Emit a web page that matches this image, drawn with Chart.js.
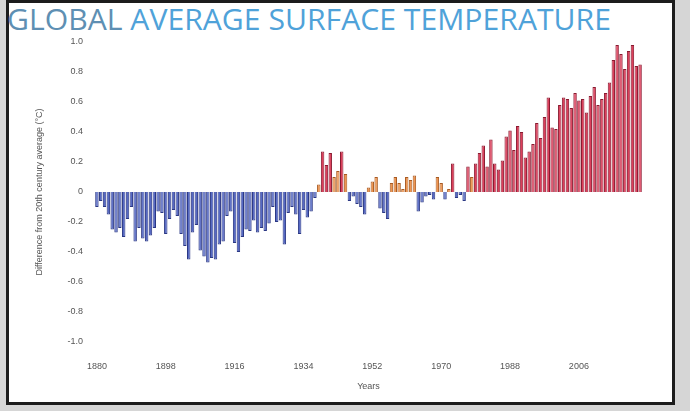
<!DOCTYPE html>
<html>
<head>
<meta charset="utf-8">
<script src="https://cdn.jsdelivr.net/npm/chart.js@4/dist/chart.umd.min.js"></script>
<style>
  html, body { margin: 0; padding: 0; }
  body { width: 690px; height: 411px; background: #d6d6d6; position: relative; overflow: hidden; }
  #frame { position: absolute; left: 6px; top: 0px; width: 663px; height: 399px; background: #fff; border: 3px solid #1c1c1c; }
  #title { position: absolute; left: 0; top: 0; }
  #chart { position: absolute; left: 0; top: 0; }
</style>
</head>
<body>
<div id="frame"></div>
<svg id="title" width="690" height="40">
  <text x="7" y="30" textLength="604" lengthAdjust="spacingAndGlyphs"
        font-family="Open Sans, DejaVu Sans, sans-serif" font-size="29"><tspan fill="#5e8fb3">GLOBAL </tspan><tspan fill="#4fa2d9">AVERAGE SURFACE TEMPERATURE</tspan></text>
</svg>
<canvas id="chart" width="690" height="411"></canvas>
<script>
// Annual global surface temperature anomaly, 1880-2022 (°C vs 20th century mean)
const years = [
  1880,1881,1882,1883,1884,1885,1886,1887,1888,1889,
  1890,1891,1892,1893,1894,1895,1896,1897,1898,1899,
  1900,1901,1902,1903,1904,1905,1906,1907,1908,1909,
  1910,1911,1912,1913,1914,1915,1916,1917,1918,1919,
  1920,1921,1922,1923,1924,1925,1926,1927,1928,1929,
  1930,1931,1932,1933,1934,1935,1936,1937,1938,1939,
  1940,1941,1942,1943,1944,1945,1946,1947,1948,1949,
  1950,1951,1952,1953,1954,1955,1956,1957,1958,1959,
  1960,1961,1962,1963,1964,1965,1966,1967,1968,1969,
  1970,1971,1972,1973,1974,1975,1976,1977,1978,1979,
  1980,1981,1982,1983,1984,1985,1986,1987,1988,1989,
  1990,1991,1992,1993,1994,1995,1996,1997,1998,1999,
  2000,2001,2002,2003,2004,2005,2006,2007,2008,2009,
  2010,2011,2012,2013,2014,2015,2016,2017,2018,2019,
  2020,2021,2022
];

const anomalies = [
  -0.10,-0.06,-0.10,-0.15,-0.25,-0.27,-0.24,-0.30,-0.18,-0.10,
  -0.33,-0.24,-0.31,-0.33,-0.29,-0.24,-0.13,-0.14,-0.28,-0.18,
  -0.12,-0.16,-0.28,-0.36,-0.45,-0.27,-0.22,-0.39,-0.43,-0.47,
  -0.44,-0.45,-0.35,-0.33,-0.16,-0.13,-0.34,-0.40,-0.30,-0.25,
  -0.26,-0.19,-0.27,-0.24,-0.26,-0.21,-0.10,-0.20,-0.19,-0.35,
  -0.14,-0.10,-0.15,-0.28,-0.12,-0.17,-0.13,-0.04, 0.05, 0.27,
   0.18, 0.26, 0.10, 0.14, 0.27, 0.12,-0.06,-0.03,-0.08,-0.10,
  -0.15, 0.03, 0.07, 0.10,-0.11,-0.14,-0.18, 0.06, 0.10, 0.06,
   0.02, 0.10, 0.08, 0.11,-0.13,-0.07,-0.03,-0.02,-0.05, 0.10,
   0.06,-0.05, 0.02, 0.19,-0.04,-0.02,-0.06, 0.17, 0.10, 0.19,
   0.26, 0.31, 0.17, 0.35, 0.19, 0.15, 0.21, 0.37, 0.41, 0.28,
   0.44, 0.40, 0.23, 0.27, 0.32, 0.46, 0.36, 0.50, 0.63, 0.43,
   0.42, 0.58, 0.63, 0.62, 0.56, 0.66, 0.61, 0.62, 0.53, 0.64,
   0.70, 0.58, 0.62, 0.66, 0.73, 0.88, 0.98, 0.92, 0.82, 0.94,
   0.98, 0.84, 0.85
];

// Years that get a label on the horizontal axis
const tickYears = [1880, 1898, 1916, 1934, 1952, 1970, 1988, 2006];

// Value-axis tick labels
const yTickLabels = ['-1.0','-0.8','-0.6','-0.4','-0.2','0','0.2','0.4','0.6','0.8','1.0'];

const fillFor = v => v < 0 ? '#5669c4' : (v < 0.15 ? '#ee9550' : '#dc3f5b');
const edgeFor = v => v < 0 ? '#2b3884' : (v < 0.15 ? '#a85a22' : '#8a1a30');

new Chart(document.getElementById('chart'), {
  type: 'bar',
  data: {
    labels: years.map(String),
    datasets: [{
      data: anomalies,
      backgroundColor: anomalies.map(fillFor),
      borderColor: anomalies.map(edgeFor),
      borderWidth: 1,
      barPercentage: 0.9,
      categoryPercentage: 1.0
    }]
  },
  options: {
    responsive: false,
    animation: false,
    devicePixelRatio: 1,
    layout: { padding: { left: 0, right: 48, top: 42, bottom: 0 } },
    plugins: { legend: { display: false }, tooltip: { enabled: false } },
    scales: {
      x: {
        grid: { display: false, drawTicks: false },
        border: { display: false },
        ticks: {
          autoSkip: false,
          maxRotation: 0,
          padding: 19,
          color: '#555',
          font: { family: 'Liberation Sans, Arial, sans-serif', size: 9 },
          callback: function (value) {
            const lbl = this.getLabelForValue(value);
            return tickYears.includes(Number(lbl)) ? lbl : null;
          }
        },
        title: {
          display: true,
          text: 'Years',
          color: '#555',
          font: { family: 'Liberation Sans, Arial, sans-serif', size: 9 },
          padding: { top: 0, bottom: 19 }
        },
        afterFit: s => { s.height = 69; }
      },
      y: {
        min: -1,
        max: 1,
        grid: { display: false, drawTicks: false },
        border: { display: false },
        ticks: {
          stepSize: 0.2,
          padding: 12,
          color: '#555',
          font: { family: 'Liberation Sans, Arial, sans-serif', size: 9 },
          callback: (value, index) => yTickLabels[index]
        },
        title: {
          display: true,
          text: 'Difference from 20th century average (°C)',
          color: '#555',
          font: { family: 'Liberation Sans, Arial, sans-serif', size: 9 },
          padding: { top: 34, bottom: 0 }
        },
        afterFit: s => { s.width = 95; }
      }
    }
  }
});
</script>
</body>
</html>
